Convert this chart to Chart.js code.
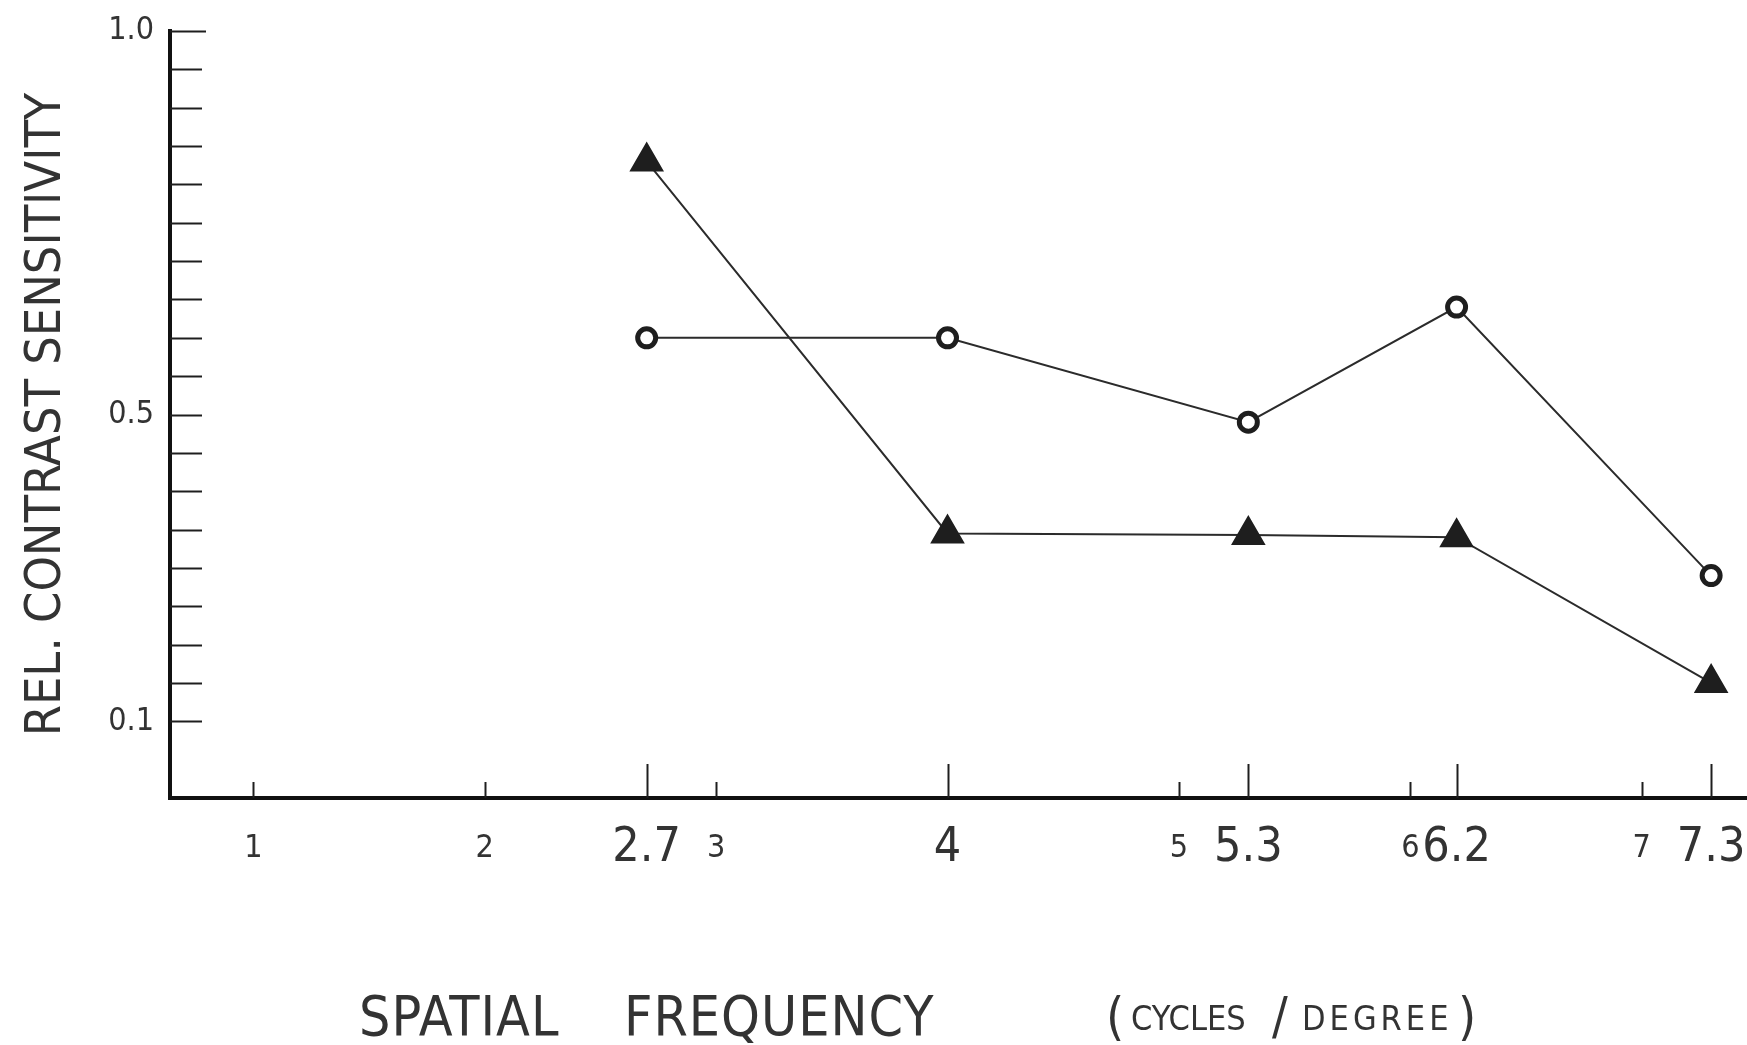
<!DOCTYPE html>
<html>
<head>
<meta charset="utf-8">
<script src="https://cdn.jsdelivr.net/npm/chart.js@4.4.0/dist/chart.umd.min.js"></script>
<style>
html,body{margin:0;padding:0;background:#fff;}
#wrap{position:relative;width:1747px;height:1045px;overflow:hidden;}
#c{position:absolute;left:0;top:0;}
.t{position:absolute;font-family:'DejaVu Sans Condensed','Liberation Sans Narrow',sans-serif;color:#333;line-height:1;white-space:nowrap;transform:translateY(-50%);}
</style>
</head>
<body>
<div id="wrap">
<canvas id="c" width="1747" height="1045"></canvas>
<span class="t" style="left:359px;top:1016px;font-size:55px;letter-spacing:1px;">SPATIAL</span>
<span class="t" style="left:624px;top:1016px;font-size:55px;letter-spacing:1px;">FREQUENCY</span>
<span class="t" style="left:1106px;top:1016px;font-size:52px;">(</span>
<span class="t" style="left:1131px;top:1018px;font-size:34px;letter-spacing:0px;">CYCLES</span>
<span class="t" style="left:1272px;top:1016px;font-size:52px;">/</span>
<span class="t" style="left:1302px;top:1018px;font-size:34px;letter-spacing:4px;">DEGREE</span>
<span class="t" style="left:1458px;top:1016px;font-size:52px;">)</span>
</div>
<script>
// ---- data ----
const frequencies    = [2.7, 4, 5.3, 6.2, 7.3];          // cycles / degree
const circleSeries   = [0.60, 0.60, 0.49, 0.64, 0.29];    // open circles
const triangleSeries = [0.83, 0.345, 0.343, 0.34, 0.15];  // triangles
const xTickValues    = [1, 2, 2.7, 3, 4, 5, 5.3, 6, 6.2, 7, 7.3];
const xTickLabels    = ['1', '2', '2.7', '3', '4', '5', '5.3', '6', '6.2', '7', '7.3'];
const yLabelValues   = [0.1, 0.5, 1.0];
const yLabelTexts    = ['0.1', '0.5', '1.0'];

const FONT = "'DejaVu Sans Condensed','Liberation Sans Narrow',sans-serif";
const INK = '#1e1e1e';

const inwardTicks = {
  id: 'inwardTicks',
  afterDraw(chart) {
    const ctx = chart.ctx, ca = chart.chartArea;
    const xs = chart.scales.x, ys = chart.scales.y;
    ctx.save();
    ctx.strokeStyle = INK;
    ctx.lineWidth = 2;
    ys.ticks.forEach(t => {
      if (t.value < 0.1 - 1e-6) return;
      const y = Math.round(ys.getPixelForValue(t.value)) + 0.5;
      const len = Math.abs(t.value - 1) < 1e-6 ? 36 : 32;
      ctx.beginPath(); ctx.moveTo(ca.left, y); ctx.lineTo(ca.left + len, y); ctx.stroke();
    });
    xs.ticks.forEach(t => {
      const x = Math.round(xs.getPixelForValue(t.value)) + 0.5;
      const len = frequencies.some(f => Math.abs(f - t.value) < 1e-6) ? 34 : 16;
      ctx.beginPath(); ctx.moveTo(x, ca.bottom); ctx.lineTo(x, ca.bottom - len); ctx.stroke();
    });
    ctx.restore();
  }
};

new Chart(document.getElementById('c'), {
  type: 'line',
  data: {
    datasets: [
      {
        label: 'circles',
        data: frequencies.map((f, i) => ({x: f, y: circleSeries[i]})),
        borderColor: '#2b2b2b', borderWidth: 2,
        pointStyle: 'circle', pointRadius: 9, pointBorderWidth: 5,
        pointBackgroundColor: '#ffffff', pointBorderColor: INK,
        tension: 0, clip: false
      },
      {
        label: 'triangles',
        data: frequencies.map((f, i) => ({x: f, y: triangleSeries[i]})),
        borderColor: '#2b2b2b', borderWidth: 2,
        pointStyle: 'triangle', pointRadius: 18, pointBorderWidth: 2,
        pointBackgroundColor: INK, pointBorderColor: INK,
        tension: 0, clip: false
      }
    ]
  },
  options: {
    responsive: false,
    animation: false,
    layout: {autoPadding: false, padding: {top: 31, right: 0, bottom: 0, left: 0}},
    plugins: {legend: {display: false}, tooltip: {enabled: false}},
    scales: {
      x: {
        type: 'linear',
        min: 0.64, max: 7.455,
        afterBuildTicks: s => { s.ticks = xTickValues.map(v => ({value: v})); },
        afterFit: s => { s.height = 247; s.paddingLeft = 0; s.paddingRight = 0; },
        grid: {drawOnChartArea: false, drawTicks: false},
        border: {display: true, color: '#111', width: 4},
        ticks: {
          autoSkip: false, maxRotation: 0, padding: 21, color: '#333',
          callback: (v) => {
            const i = xTickValues.findIndex(t => Math.abs(t - v) < 1e-6);
            return i >= 0 ? xTickLabels[i] : '';
          },
          font: (ctx) => {
            const big = ctx.tick && frequencies.some(f => Math.abs(f - ctx.tick.value) < 1e-6);
            return big ? {family: FONT, size: 48, lineHeight: '60px'} : {family: FONT, size: 32, lineHeight: '60px'};
          }
        }
      },
      y: {
        min: 0, max: 1.0,
        afterFit: s => { s.width = 170; s.paddingTop = 0; s.paddingBottom = 0; },
        grid: {drawOnChartArea: false, drawTicks: false},
        border: {display: true, color: '#111', width: 4},
        ticks: {
          stepSize: 0.05, autoSkip: false, padding: 16, color: '#333',
          font: {family: FONT, size: 32},
          callback: (v) => {
            const i = yLabelValues.findIndex(t => Math.abs(t - v) < 1e-6);
            return i >= 0 ? yLabelTexts[i] : '';
          }
        },
        title: {
          display: true, text: 'REL. CONTRAST SENSITIVITY', color: '#333',
          font: {family: FONT, size: 50}, padding: {top: 17, bottom: 0}
        }
      }
    }
  },
  plugins: [inwardTicks]
});
</script>
</body>
</html>
